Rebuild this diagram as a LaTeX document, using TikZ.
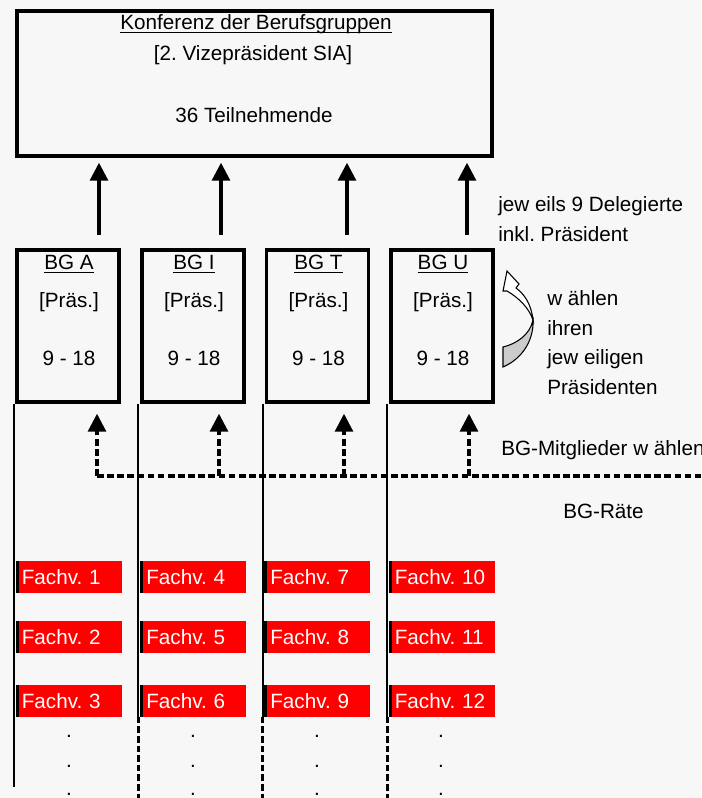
\documentclass[tikz,border=0pt]{standalone}
\usepackage{fontspec}
\setmainfont{Liberation Sans}
\usetikzlibrary{arrows.meta,positioning}
\definecolor{paper}{HTML}{F7F7F7}
\definecolor{fvred}{HTML}{FF0000}
\definecolor{ribbon}{HTML}{CCCCCC}
\newcommand{\ulin}[1]{\setbox0\hbox{#1}\rlap{\rule[-2.6pt]{\wd0}{0.8pt}}\box0}
\frenchspacing

\begin{document}
\begin{tikzpicture}[
  x=0.75pt, y=-0.75pt,
  font=\fontsize{15.5}{18}\selectfont,
  box/.style={draw, line width=2.6pt, inner sep=0pt},
  bgbox/.style={box, minimum width=76.5pt, minimum height=114pt},
  txt/.style={anchor=base, inner sep=0pt},
  lbl/.style={anchor=base west, inner sep=0pt},
  fvbox/.style={fill=fvred, text=white, minimum height=24pt,
    inner xsep=4.75pt, inner ysep=0pt, text width=70pt, align=left,
    path picture={\fill[black] (path picture bounding box.north west) rectangle ([xshift=2.6pt]path picture bounding box.south west);}},
  vline/.style={line width=1.3pt},
  cutline/.style={line width=2pt, dash pattern=on 5pt off 2.2pt},
  arr/.style={-{Triangle[width=13.5pt,length=13.5pt]}, line width=2.3pt},
  darr/.style={arr, dash pattern=on 5pt off 2.6pt},
  dline/.style={line width=2.3pt, dash pattern=on 5pt off 2.6pt}
]
\fill[paper] (0,0) rectangle (701,798);
\useasboundingbox (0,0) rectangle (701,798);

% conference
\node[box, minimum width=356.25pt, minimum height=108.75pt] (konf) at (254.5,83.5) {};
\node[txt] (konfT) at (256,30) {\ulin{Konferenz der Berufsgruppen}};
\node[txt] (konfV) at (253,61) {[2. Vizepräsident SIA]};
\node[txt] (konfN) at (254,123) {36 Teilnehmende};

% professional groups
\node[bgbox] (bga) at (68,326) {};
\node[txt] (bgaN) at (69,270) {\ulin{BG A}};
\node[txt] (bgaP) at (69,307) {[Präs.]};
\node[txt] (bgaZ) at (69,365) {9 - 18};
\node[bgbox] (bgi) at (193,326) {};
\node[txt] (bgiN) at (194,270) {\ulin{BG I}};
\node[txt] (bgiP) at (194,307) {[Präs.]};
\node[txt] (bgiZ) at (194,365) {9 - 18};
\node[bgbox] (bgt) at (317.5,326) {};
\node[txt] (bgtN) at (318.5,270) {\ulin{BG T}};
\node[txt] (bgtP) at (318.5,307) {[Präs.]};
\node[txt] (bgtZ) at (318.5,365) {9 - 18};
\node[bgbox] (bgu) at (442,326) {};
\node[txt] (bguN) at (443,270) {\ulin{BG U}};
\node[txt] (bguP) at (443,307) {[Präs.]};
\node[txt] (bguZ) at (443,365) {9 - 18};

% delegates up
\coordinate (uA) at (99,235);
\coordinate (uI) at (221,235);
\coordinate (uT) at (347,235);
\coordinate (uU) at (467,235);
\draw[arr, shorten >=3.75pt] (uA) -- (uA |- konf.south);
\draw[arr, shorten >=3.75pt] (uI) -- (uI |- konf.south);
\draw[arr, shorten >=3.75pt] (uT) -- (uT |- konf.south);
\draw[arr, shorten >=3.75pt] (uU) -- (uU |- konf.south);

% members vote
\coordinate (hA) at (97,476);
\coordinate (hI) at (219,476);
\coordinate (hT) at (344,476);
\coordinate (hU) at (469,476);
\coordinate (hEnd) at (701,476);
\draw[dline] (hA) -- (hEnd);
\draw[darr, shorten >=7.5pt] (hA) -- (hA |- bga.south);
\draw[darr, shorten >=7.5pt] (hI) -- (hI |- bgi.south);
\draw[darr, shorten >=7.5pt] (hT) -- (hT |- bgt.south);
\draw[darr, shorten >=7.5pt] (hU) -- (hU |- bgu.south);

% councils
\draw[vline] ([xshift=-0.75pt]bga.south west) -- ++(0,383);
\draw[vline] ([xshift=-1.5pt]bgi.south west) -- ++(0,313) coordinate (cutI);
\draw[cutline] (cutI) -- ++(0,86);
\draw[vline] ([xshift=-1.5pt]bgt.south west) -- ++(0,313) coordinate (cutT);
\draw[cutline] (cutT) -- ++(0,86);
\draw[vline] ([xshift=-1.5pt]bgu.south west) -- ++(0,313) coordinate (cutU);
\draw[cutline] (cutU) -- ++(0,86);

\node[fvbox] (fv1) at (68.5,577) {Fachv. 1};
\node[fvbox] (fv2) at (68.5,637) {Fachv. 2};
\node[fvbox] (fv3) at (68.5,701) {Fachv. 3};
\node[fvbox] (fv4) at (193,577) {Fachv. 4};
\node[fvbox] (fv5) at (193,637) {Fachv. 5};
\node[fvbox] (fv6) at (193,701) {Fachv. 6};
\node[fvbox] (fv7) at (317,577) {Fachv. 7};
\node[fvbox] (fv8) at (317,637) {Fachv. 8};
\node[fvbox] (fv9) at (317,701) {Fachv. 9};
\node[fvbox] (fv10) at (441.5,577) {Fachv. 10};
\node[fvbox] (fv11) at (441.5,637) {Fachv. 11};
\node[fvbox] (fv12) at (441.5,701) {Fachv. 12};

\foreach \x in {69,193,317,441}
  \foreach \y in {737,767,795}
    \node[txt] (dot-\x-\y) at (\x,\y) {.};

% labels right
\node[lbl] (deleg1) at (498,212) {jew eils 9 Delegierte};
\node[lbl] (deleg2) at (498,242) {inkl. Präsident};
\node[lbl] (wahl1) at (547,305) {w ählen};
\node[lbl] (wahl2) at (547,335) {ihren};
\node[lbl] (wahl3) at (547,364) {jew eiligen};
\node[lbl] (wahl4) at (547,394) {Präsidenten};
\node[lbl] (mitgl) at (501,455) {BG-Mitglieder w ählen};
\node[lbl] (raete) at (563,518) {BG-Räte};

% turning arrow
\draw[line width=0.8pt, fill=ribbon] (503,347) .. controls (516,344) and (530,335) .. (533,320)
  .. controls (534,338) and (524,358) .. (503,367) -- cycle;
\draw[line width=0.8pt, fill=white] (533,320) .. controls (531,303) and (524,294) .. (516,288)
  -- (519,284) -- (507,271) -- (503,291) -- (507,291)
  .. controls (519,298) and (529,308) .. (533,320) -- cycle;
\end{tikzpicture}
\end{document}
